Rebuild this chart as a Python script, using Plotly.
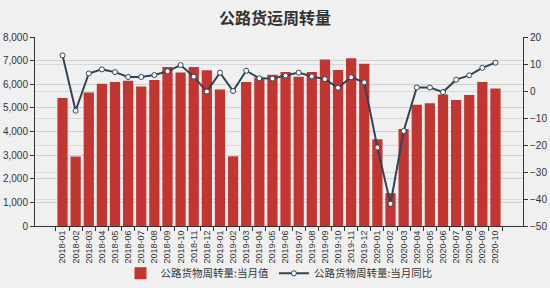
import plotly.graph_objects as go

months = ["2018-01","2018-02","2018-03","2018-04","2018-05","2018-06","2018-07","2018-08","2018-09","2018-10","2018-11","2018-12",
          "2019-01","2019-02","2019-03","2019-04","2019-05","2019-06","2019-07","2019-08","2019-09","2019-10","2019-11","2019-12",
          "2020-01","2020-02","2020-03","2020-04","2020-05","2020-06","2020-07","2020-08","2020-09","2020-10"]
monthly_value = [5420, 2940, 5650, 6020, 6090, 6150, 5910, 6180, 6730, 6500, 6730, 6590,
                 5780, 2950, 6090, 6290, 6400, 6520, 6320, 6520, 7050, 6600, 7100, 6870,
                 3670, 1390, 4110, 5130, 5200, 5570, 5330, 5550, 6090, 5820]
yoy_pct = [13.2, -7.3, 6.5, 8.0, 7.0, 5.2, 5.2, 5.9, 7.3, 9.6, 5.3, -0.2,
           6.8, 0.0, 7.5, 4.7, 4.6, 5.7, 6.8, 5.4, 4.4, 1.2, 5.1, 3.2,
           -20.9, -41.8, -14.8, 1.3, 1.3, -0.4, 4.2, 5.8, 8.6, 10.5]

font_family = "Liberation Sans, Noto Sans CJK SC, sans-serif"

fig = go.Figure()
fig.add_trace(go.Bar(
    x=months, y=monthly_value, name="公路货物周转量:当月值",
    marker=dict(color="#c23531", line=dict(width=0)),
))
fig.add_trace(go.Scatter(
    x=months, y=yoy_pct, name="公路货物周转量:当月同比", yaxis="y2",
    mode="lines+markers",
    line=dict(color="#2f4554", width=2),
    marker=dict(symbol="circle", size=5, color="white", line=dict(color="#2f4554", width=1)),
))

fig.update_layout(
    width=550, height=288,
    margin=dict(l=35, r=27, t=37, b=62, autoexpand=False),
    paper_bgcolor="#f0f0f0", plot_bgcolor="#f0f0f0",
    font=dict(family=font_family, size=10, color="#333"),
    title=dict(text="<b>公路货运周转量</b>", x=0.5, xanchor="center", y=0.935, yanchor="middle",
               yref="container", font=dict(family="Noto Sans CJK SC, sans-serif", size=16, color="#333")),
    bargap=0.22,
    showlegend=True,
    legend=dict(orientation="h", x=0.5, xanchor="center", y=-0.25, yanchor="middle",
                font=dict(family="Noto Sans CJK SC, sans-serif", size=10.5, color="#333"),
                bgcolor="rgba(0,0,0,0)", itemwidth=30, tracegroupgap=0),
    xaxis=dict(type="category", tickangle=-90, tickson="boundaries", ticks="outside", ticklen=4,
               tickcolor="#333", showline=True, linecolor="#333", linewidth=1, showgrid=False,
               automargin=False, tickfont=dict(size=9, color="#333")),
    yaxis=dict(range=[0, 8000], dtick=1000, tickformat=",", ticks="outside", ticklen=4, tickcolor="#333",
               showline=True, linecolor="#333", linewidth=1, showgrid=True, gridcolor="#d0d0d0",
               gridwidth=1, zeroline=False, automargin=False, tickfont=dict(size=10, color="#333")),
    yaxis2=dict(range=[-50, 20], dtick=10, overlaying="y", side="right", ticks="outside", ticklen=4,
                tickcolor="#333", showline=True, linecolor="#333", linewidth=1, showgrid=True,
                gridcolor="#d8d8d8", gridwidth=1, zeroline=False, automargin=False,
                tickfont=dict(size=10, color="#333")),
)

fig.write_html("out.html")
